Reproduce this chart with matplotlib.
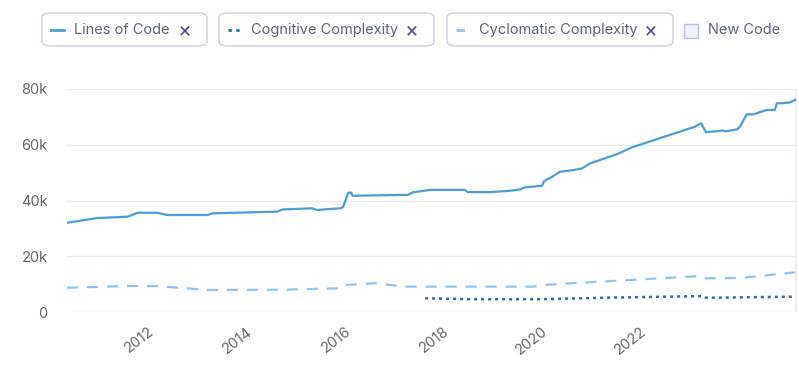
import matplotlib
matplotlib.use("Agg")
import matplotlib.pyplot as plt
from matplotlib.patches import FancyBboxPatch, Rectangle
from matplotlib.lines import Line2D
from matplotlib.ticker import FuncFormatter

plt.rcParams['font.family'] = ['Inter', 'DejaVu Sans']

# ---- data (decimal years) ----
loc_x = [2010.35, 2010.96, 2011.59, 2011.78, 2012.18, 2012.39, 2013.20, 2013.32, 2014.62, 2014.74,
         2015.33, 2015.43, 2015.90, 2015.96, 2016.07, 2016.13, 2016.15, 2017.12, 2017.28, 2017.37,
         2017.73, 2018.44, 2018.50, 2018.95, 2019.36, 2019.56, 2019.66, 2020.01, 2020.05, 2020.21,
         2020.37, 2020.64, 2020.82, 2020.98, 2021.53, 2021.84, 2023.12, 2023.24, 2023.34, 2023.69,
         2023.73, 2023.97, 2024.03, 2024.17, 2024.30, 2024.58, 2024.74, 2024.78, 2024.89, 2025.05,
         2025.15]
loc_y = [32000, 33700, 34200, 35600, 35600, 34800, 34800, 35400, 36000, 36800,
         37200, 36600, 37200, 37600, 42800, 42800, 41700, 42000, 42000, 42900,
         43800, 43800, 43000, 43000, 43500, 44000, 44700, 45300, 47000, 48500,
         50300, 50900, 51500, 53300, 56600, 59100, 66500, 67700, 64500, 65100,
         64800, 65500, 66500, 70900, 70900, 72500, 72500, 74900, 74900, 75200,
         76100]

cyc_x = [2010.35, 2011.59, 2012.18, 2013.20, 2014.74, 2015.90, 2016.00, 2016.61, 2017.12, 2017.26,
         2019.83, 2020.04, 2021.20, 2023.24, 2023.34, 2024.03, 2025.15]
cyc_y = [8700, 9300, 9300, 7900, 8000, 8500, 9700, 10300, 9300, 9100,
         9100, 9700, 10900, 12900, 12100, 12200, 14200]

cog_x = [2017.63, 2018.54, 2020.06, 2021.20, 2023.24, 2023.34, 2025.15]
cog_y = [4900, 4600, 4600, 5100, 5700, 5100, 5500]

years = [2012, 2014, 2016, 2018, 2020, 2022]
ytick_vals = [0, 20000, 40000, 60000, 80000]

series_names = ["Lines of Code", "Cognitive Complexity", "Cyclomatic Complexity"]

# ---- styles ----
c_loc = "#4a9fd8"
c_cog = "#2570a3"
c_cyc = "#8fc6ea"
txt = "#5d6479"
grid_c = "#ebebeb"

W, H = 799, 365
fig = plt.figure(figsize=(W / 100, H / 100), dpi=100)
ax = fig.add_axes([67 / W, 1 - 312 / H, (797 - 67) / W, (312 - 89) / H])

ax.plot(loc_x, loc_y, color=c_loc, lw=1.6, solid_joinstyle='round')
ax.plot(cog_x, cog_y, color=c_cog, lw=1.8, linestyle=(0, (1.2, 1.6)))
ax.plot(cyc_x, cyc_y, color=c_cyc, lw=1.6, linestyle=(0, (5, 4)))

ax.set_xlim(2010.35, 2025.19)
ax.set_ylim(0, 80000)
ax.axvspan(2025.15, 2025.19, color="#eef0fb", zorder=0)

ax.set_yticks(ytick_vals)
ax.yaxis.set_major_formatter(FuncFormatter(lambda v, p: "0" if v == 0 else f"{int(v/1000)}k"))
ax.set_xticks(years)
ax.set_xticklabels([str(y) for y in years], rotation=38, ha='right', rotation_mode='anchor')
ax.tick_params(axis='both', length=0, labelsize=10.5, labelcolor="#666666")
ax.tick_params(axis='y', pad=14)
ax.tick_params(axis='x', pad=9)
for lbl in ax.get_xticklabels():
    lbl.set_x(lbl.get_position()[0])
ax.grid(axis='y', color=grid_c, lw=1)
for s in ax.spines.values():
    s.set_visible(False)

# ---- legend (custom boxes) ----
def fx(px):
    return px / W

def fy(py):
    return 1 - py / H

boxes = [(42, 207, series_names[0], c_loc, '-'),
         (219, 434, series_names[1], c_cog, (0, (1.2, 1.6))),
         (447, 673, series_names[2], c_cyc, (0, (3, 3)))]
for x0, x1, name, col, ls in boxes:
    p = FancyBboxPatch((fx(x0), fy(46)), fx(x1 - x0), (46 - 13) / H,
                       boxstyle="round,pad=0,rounding_size=0.012",
                       transform=fig.transFigure, fc="white", ec="#c9cede", lw=1)
    fig.patches.append(p)
    fig.lines.append(Line2D([fx(x0 + 9), fx(x0 + 22)], [fy(30), fy(30)],
                            transform=fig.transFigure, color=col, lw=2, linestyle=ls))
    fig.text(fx(x0 + 32), fy(30), name, color=txt, fontsize=10.5, va='center', ha='left')
    fig.text(fx(x1 - 22), fy(30), "×", color="#4b4ba8", fontsize=15, va='center', ha='center')

r = Rectangle((fx(684), fy(38)), 14 / W, 14 / H, transform=fig.transFigure,
              fc="#eef0fb", ec="#b8bfee", lw=1)
fig.patches.append(r)
fig.text(fx(708), fy(30), "New Code", color=txt, fontsize=10.5, va='center', ha='left')

fig.savefig("out.png", dpi=100)
